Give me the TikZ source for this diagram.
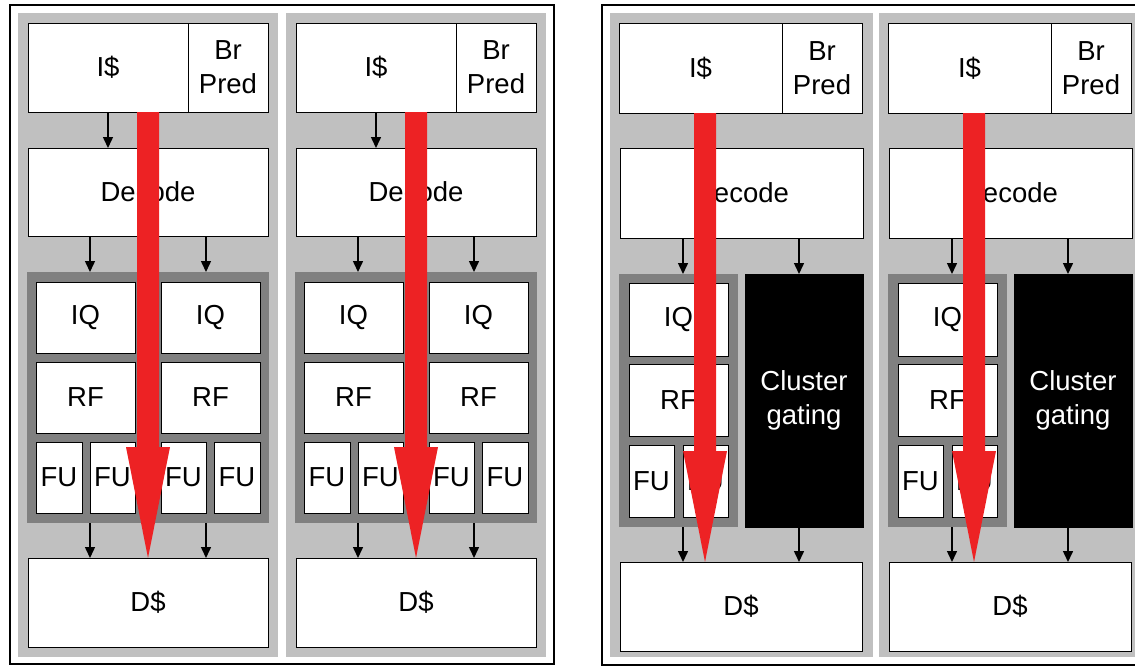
\documentclass[tikz,border=0pt]{standalone}
\usepackage{fontspec}
\setmainfont{Liberation Sans}
\usetikzlibrary{arrows.meta,calc}
\definecolor{lg}{HTML}{C0C0C0}
\definecolor{dg}{HTML}{808080}
\definecolor{rd}{HTML}{ED2224}
\newcommand\mkbox[7][]{\node[blk,#1,minimum width={(#5)-(#3)},minimum height={(#6)-(#4)}] (#2) at ({((#3)+(#5))/2},{((#4)+(#6))/2}) {#7};}
\newcommand\redarrow[2]{\fill[rd] ($(#1)+(-11,0)$) -- ($(#1)+(11,0)$) -- ($(#2)+(11,-111)$) -- ($(#2)+(22,-111)$) -- (#2) -- ($(#2)+(-22,-111)$) -- ($(#2)+(-11,-111)$) -- cycle;}
\tikzset{
  blk/.style={draw=black, line width=1pt, fill=white, inner sep=0pt, outer sep=0pt,
    font=\fontsize{27.5}{34}\selectfont, align=center},
  panel/.style={fill=lg, draw=none},
  clu/.style={fill=dg, draw=none},
  gate/.style={fill=black, draw=black, text=white},
  arr/.style={line width=1.5pt, -{Triangle[width=10pt,length=11pt]}},
  frame/.style={draw=black, line width=1.5pt}
}
\begin{document}
\begin{tikzpicture}[x=1pt,y=-1pt]
\useasboundingbox (0,0) rectangle (1135,667);
\clip (0,0) rectangle (1135,667);
\fill[white] (0,0) rectangle (1135,667);
\draw[frame] (10,5) rectangle (554,664);
\draw[frame] (602,5) rectangle (1150,665);
% left: two 4-FU clusters
\foreach \o/\p in {0/a,268/b}{
  \mkbox[panel]{pn\p}{\o+18}{13}{\o+278}{657}{}
  \mkbox{ic\p}{\o+28}{23}{\o+188}{112}{I\$}
  \mkbox{bp\p}{\o+188}{23}{\o+268}{112}{Br\\Pred}
  \mkbox{de\p}{\o+28}{148}{\o+268}{236}{Decode}
  \mkbox[clu]{cl\p}{\o+27}{272}{\o+269}{523}{}
  \mkbox{iqa\p}{\o+36}{282}{\o+135}{353}{IQ}
  \mkbox{iqb\p}{\o+161}{282}{\o+260}{353}{IQ}
  \mkbox{rfa\p}{\o+36}{362}{\o+135}{433}{RF}
  \mkbox{rfb\p}{\o+161}{362}{\o+260}{433}{RF}
  \mkbox{fua\p}{\o+36}{442}{\o+82}{513}{FU}
  \mkbox{fub\p}{\o+90}{442}{\o+135}{513}{FU}
  \mkbox{fuc\p}{\o+161}{442}{\o+206}{513}{FU}
  \mkbox{fud\p}{\o+214}{442}{\o+260}{513}{FU}
  \mkbox{ds\p}{\o+28}{558}{\o+268}{647}{D\$}
  \coordinate (xa\p) at ({\o+108},0);
  \coordinate (xb\p) at ({\o+90},0);
  \coordinate (xc\p) at ({\o+206},0);
  \coordinate (xr\p) at ({\o+148},0);
  \draw[arr] (ic\p.south -| xa\p) -- (de\p.north -| xa\p);
  \draw[arr] (de\p.south -| xb\p) -- (cl\p.north -| xb\p);
  \draw[arr] (de\p.south -| xc\p) -- (cl\p.north -| xc\p);
  \draw[arr] (cl\p.south -| xb\p) -- (ds\p.north -| xb\p);
  \draw[arr] (cl\p.south -| xc\p) -- (ds\p.north -| xc\p);
  \coordinate (rs\p) at (ic\p.south -| xr\p);
  \coordinate (rt\p) at (ds\p.north -| xr\p);
  \redarrow{rs\p}{rt\p}
}
% right: cluster gating
\foreach \o/\p in {0/c,269/d}{
  \mkbox[panel]{pn\p}{\o+610}{13}{\o+873}{657}{}
  \mkbox{ic\p}{\o+619}{23}{\o+782}{113}{I\$}
  \mkbox{bp\p}{\o+782}{23}{\o+862}{113}{Br\\Pred}
  \mkbox{de\p}{\o+620}{148}{\o+863}{238}{Decode}
  \mkbox[clu]{cl\p}{\o+619}{274}{\o+738}{527}{}
  \mkbox[gate]{cg\p}{\o+745}{274}{\o+863}{527}{Cluster\\gating}
  \mkbox{iq\p}{\o+629}{283}{\o+728}{356}{IQ}
  \mkbox{rf\p}{\o+629}{364}{\o+728}{436}{RF}
  \mkbox{fua\p}{\o+629}{445}{\o+674}{517}{FU}
  \mkbox{fub\p}{\o+683}{445}{\o+728}{517}{FU}
  \mkbox{ds\p}{\o+620}{562}{\o+862}{651}{D\$}
  \coordinate (xa\p) at ({\o+700.5},0);
  \coordinate (xb\p) at ({\o+683},0);
  \coordinate (xc\p) at ({\o+799},0);
  \coordinate (xr\p) at ({\o+705},0);
  \draw[arr] (ic\p.south -| xa\p) -- (de\p.north -| xa\p);
  \draw[arr] (de\p.south -| xb\p) -- (cl\p.north -| xb\p);
  \draw[arr] (de\p.south -| xc\p) -- (cg\p.north -| xc\p);
  \draw[arr] (cl\p.south -| xb\p) -- (ds\p.north -| xb\p);
  \draw[arr] (cg\p.south -| xc\p) -- (ds\p.north -| xc\p);
  \coordinate (rs\p) at (ic\p.south -| xr\p);
  \coordinate (rt\p) at (ds\p.north -| xr\p);
  \redarrow{rs\p}{rt\p}
}
\end{tikzpicture}
\end{document}
